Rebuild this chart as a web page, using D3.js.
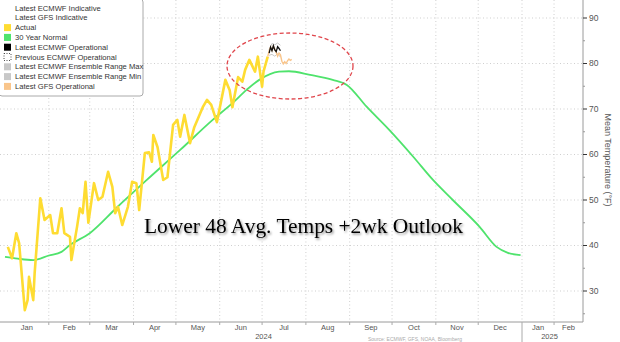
<!DOCTYPE html>
<html><head><meta charset="utf-8">
<script src="https://cdn.jsdelivr.net/npm/d3@7"></script>
<style>body{margin:0;background:#fff}svg{display:block}</style>
</head><body><svg id="c" width="620" height="342"></svg>
<script>
const actualDates = ["2024-01-03","2024-01-06","2024-01-09","2024-01-11","2024-01-15","2024-01-17","2024-01-18","2024-01-21","2024-01-22","2024-01-26","2024-01-29","2024-02-02","2024-02-04","2024-02-07","2024-02-10","2024-02-12","2024-02-16","2024-02-17","2024-02-21","2024-02-23","2024-02-25","2024-02-27","2024-02-29","2024-03-04","2024-03-07","2024-03-10","2024-03-14","2024-03-17","2024-03-19","2024-03-21","2024-03-24","2024-03-28","2024-03-31","2024-04-03","2024-04-05","2024-04-09","2024-04-12","2024-04-14","2024-04-15","2024-04-18","2024-04-22","2024-04-25","2024-04-29","2024-05-02","2024-05-04","2024-05-07","2024-05-11","2024-05-14","2024-05-20","2024-05-23","2024-05-26","2024-05-30","2024-06-05","2024-06-08","2024-06-10","2024-06-14","2024-06-17","2024-06-19","2024-06-22","2024-06-26","2024-06-28","2024-07-01","2024-07-02","2024-07-05"];
const actualTemps = [39.7,37.2,42.7,40.5,25.8,28.0,33.1,28.0,34.0,50.4,45.6,46.7,42.7,42.7,48.2,42.7,41.9,36.8,44.1,48.2,47.1,54.0,45.0,53.7,50.0,50.7,56.2,52.9,47.1,48.5,44.5,48.5,54.0,53.7,47.8,60.3,60.5,58.4,64.3,61.6,54.4,55.0,66.5,67.6,63.9,68.7,62.5,66.0,70.4,72.0,70.9,67.1,76.4,74.2,70.4,77.0,76.0,78.6,80.8,78.2,81.5,74.9,78.2,81.5];

const normalDates = ["2024-01-01","2024-01-10","2024-01-21","2024-02-01","2024-02-10","2024-02-16","2024-03-01","2024-03-20","2024-04-10","2024-05-04","2024-05-27","2024-06-10","2024-06-20","2024-06-29","2024-07-13","2024-07-20","2024-08-04","2024-08-20","2024-08-30","2024-09-13","2024-09-29","2024-10-16","2024-10-30","2024-11-13","2024-12-02","2024-12-14","2024-12-22","2024-12-31"];
const normalTemps = [37.5,37.1,36.8,37.8,38.6,40.1,42.7,48.3,54.3,61.0,67.6,71.3,74.2,76.4,78.2,78.3,77.5,76.4,75.3,70.5,65.4,59.5,54.4,50.0,44.1,39.7,38.4,37.9];

const ecmwfDates = ["2024-07-06","2024-07-07","2024-07-08","2024-07-09","2024-07-10","2024-07-11","2024-07-12","2024-07-13","2024-07-14"];
const ecmwfTemps = [82.3,83.6,82.8,83.9,83.0,82.6,83.7,83.3,82.8];

const ensMaxDates = ["2024-07-06","2024-07-08","2024-07-10","2024-07-12","2024-07-14"];
const ensMaxTemps = [83.0,84.4,84.1,84.5,84.0];
const ensMinDates = ["2024-07-06","2024-07-08","2024-07-10","2024-07-12","2024-07-14"];
const ensMinTemps = [81.8,82.0,81.6,82.2,81.4];

const gfsDates = ["2024-07-05","2024-07-06","2024-07-07","2024-07-08","2024-07-09","2024-07-10","2024-07-11","2024-07-12","2024-07-13","2024-07-14","2024-07-15","2024-07-16","2024-07-17","2024-07-18","2024-07-19","2024-07-20","2024-07-21","2024-07-22"];
const gfsTemps = [81.5,82.8,83.6,82.9,83.8,83.1,82.4,81.6,82.3,81.9,80.5,79.9,80.4,80.0,80.6,81.0,80.7,80.9];

const yTicks = [30,40,50,60,70,80,90];
const yMinor = [25,35,45,55,65,75,85];
const monthLabels = ["Jan","Feb","Mar","Apr","May","Jun","Jul","Aug","Sep","Oct","Nov","Dec","Jan","Feb"];
const yearLabels = ["2024","2025"];
const legendLabels = ["Latest ECMWF Indicative","Latest GFS Indicative","Actual","30 Year Normal","Latest ECMWF Operational","Previous ECMWF Operational","Latest ECMWF Ensemble Range Max","Latest ECMWF Ensemble Range Min","Latest GFS Operational"];
const legendColors = ["#ffffff","#ffffff","#fedc32","#4fe36c","#000000","none","#c8c8c8","#c8c8c8","#f9c58b"];
const titleText = "Lower 48 Avg. Temps +2wk Outlook";
const yAxisTitle = "Mean Temperature (°F)";
const sourceText = "Source: ECMWF, GFS, NOAA, Bloomberg";

const parse = d3.timeParse("%Y-%m-%d");
const svg = d3.select("#c");
const font = "'Liberation Sans', Arial, sans-serif";

const d0 = new Date(2024,0,1), d1 = new Date(2025,0,1), d2 = new Date(2025,2,1);
const x = d3.scaleTime().domain([d0, d1, d2]).range([5, 522, 583]);
const y = d3.scaleLinear().domain([30, 90]).range([291, 18]);
const axisX = 583, axisY = 322;

const defs = svg.append("defs");
const f = defs.append("filter").attr("id","sh").attr("x","-10%").attr("y","-30%").attr("width","120%").attr("height","160%");
f.append("feDropShadow").attr("dx",1.2).attr("dy",1.6).attr("stdDeviation",1).attr("flood-color","#000").attr("flood-opacity",0.45);

// grid
const months = d3.timeMonth.range(new Date(2024,1,1), d2);
svg.append("g").selectAll("line").data(months).join("line")
  .attr("x1", d => x(d)).attr("x2", d => x(d)).attr("y1", 0).attr("y2", axisY)
  .attr("stroke", "#cfcfcf").attr("stroke-dasharray", "1,2.5").attr("stroke-width", 1);
svg.append("g").selectAll("line").data(yTicks).join("line")
  .attr("x1", 0).attr("x2", axisX).attr("y1", d => y(d)).attr("y2", d => y(d))
  .attr("stroke", "#cfcfcf").attr("stroke-dasharray", "1,2.5").attr("stroke-width", 1);

// axes lines
svg.append("line").attr("x1",0).attr("x2",axisX).attr("y1",axisY).attr("y2",axisY).attr("stroke","#9a9a9a");
svg.append("line").attr("x1",axisX).attr("x2",axisX).attr("y1",0).attr("y2",axisY).attr("stroke","#9a9a9a");

// x ticks
svg.append("g").selectAll("line").data(months).join("line")
  .attr("x1", d => x(d)).attr("x2", d => x(d)).attr("y1", axisY).attr("y2", d => +d === +d1 ? 342 : axisY + 3)
  .attr("stroke", "#aaa");

// month labels
const allMonths = d3.timeMonth.range(d0, d2);
svg.append("g").selectAll("text").data(allMonths).join("text")
  .attr("x", d => { const e = d3.timeMonth.offset(d,1); return (x(d) + x(e > d2 ? d2 : e)) / 2; })
  .attr("y", 330).attr("text-anchor","middle")
  .attr("font-family", font).attr("font-size", 7.5).attr("fill", "#555")
  .text((d,i) => monthLabels[i]);
svg.append("g").selectAll("text").data(yearLabels).join("text")
  .attr("x", (d,i) => i === 0 ? (x(d0)+x(d1))/2 : (x(d1)+x(d2))/2 - 3)
  .attr("y", 339).attr("text-anchor","middle")
  .attr("font-family", font).attr("font-size", 7.5).attr("fill", "#555")
  .text(d => d);

// y ticks
svg.append("g").selectAll("line").data(yTicks).join("line")
  .attr("x1", axisX).attr("x2", axisX+4).attr("y1", d => y(d)).attr("y2", d => y(d)).attr("stroke","#333");
svg.append("g").selectAll("line").data(yMinor).join("line")
  .attr("x1", axisX).attr("x2", axisX+2).attr("y1", d => y(d)).attr("y2", d => y(d)).attr("stroke","#999");
svg.append("g").selectAll("text").data(yTicks).join("text")
  .attr("x", axisX+6).attr("y", d => y(d)).attr("dy","0.35em")
  .attr("font-family", font).attr("font-size", 8.5).attr("fill", "#555")
  .text(d => d);
svg.append("text").attr("transform", "translate(605,160) rotate(90)")
  .attr("text-anchor","middle").attr("font-family", font).attr("font-size", 9).attr("fill","#555")
  .text(yAxisTitle);

// series
function series(dates, temps) { return dates.map((d,i) => ({d: parse(d), v: temps[i]})); }
const line = d3.line().x(p => x(p.d)).y(p => y(p.v));
const smooth = d3.line().x(p => x(p.d)).y(p => y(p.v)).curve(d3.curveMonotoneX);

svg.append("path").attr("d", smooth(series(normalDates, normalTemps)))
  .attr("fill","none").attr("stroke","#4fe36c").attr("stroke-width",1.8);
svg.append("path").attr("d", line(series(actualDates, actualTemps)))
  .attr("fill","none").attr("stroke","#fedc32").attr("stroke-width",2.6).attr("stroke-linejoin","round");
svg.append("path").attr("d", line(series(ensMaxDates, ensMaxTemps)))
  .attr("fill","none").attr("stroke","#c8c8c8").attr("stroke-width",1);
svg.append("path").attr("d", line(series(ensMinDates, ensMinTemps)))
  .attr("fill","none").attr("stroke","#c8c8c8").attr("stroke-width",1);
svg.append("path").attr("d", line(series(gfsDates, gfsTemps)))
  .attr("fill","none").attr("stroke","#f9c58b").attr("stroke-width",1.4);
svg.append("path").attr("d", line(series(ecmwfDates, ecmwfTemps)))
  .attr("fill","none").attr("stroke","#111").attr("stroke-width",1.3);

// ellipse annotation
svg.append("ellipse").attr("cx",290).attr("cy",66).attr("rx",63).attr("ry",33)
  .attr("fill","none").attr("stroke","#e0464c").attr("stroke-width",1.3).attr("stroke-dasharray","4,2.5");

// legend
const lg = svg.append("g");
lg.append("rect").attr("x",-1).attr("y",-1).attr("width",144).attr("height",97).attr("rx",3)
  .attr("fill","#fff").attr("stroke","#aaa");
const rows = lg.selectAll("g").data(legendLabels).join("g")
  .attr("transform", (d,i) => `translate(0,${8 + i*9.8})`);
rows.append("rect").attr("x",4).attr("y",-3.5).attr("width",7).attr("height",7)
  .attr("fill", (d,i) => legendColors[i])
  .attr("stroke", (d,i) => legendColors[i] === "none" ? "#222" : "none")
  .attr("stroke-width", 0.8)
  .attr("stroke-dasharray", (d,i) => legendColors[i] === "none" ? "1,1.5" : null);
rows.append("text").attr("x",15).attr("y",2.6)
  .attr("font-family", font).attr("font-size",7.6).attr("fill","#333")
  .text(d => d);

// title
svg.append("text").attr("x",144).attr("y",233)
  .attr("font-family","'Liberation Serif','Times New Roman',serif").attr("font-size",21)
  .attr("fill","#000").attr("textLength",319).attr("lengthAdjust","spacingAndGlyphs")
  .attr("filter","url(#sh)")
  .text(titleText);

// source
svg.append("text").attr("x",368).attr("y",341)
  .attr("font-family", font).attr("font-size",5).attr("fill","#aaa")
  .text(sourceText);
</script></body></html>
